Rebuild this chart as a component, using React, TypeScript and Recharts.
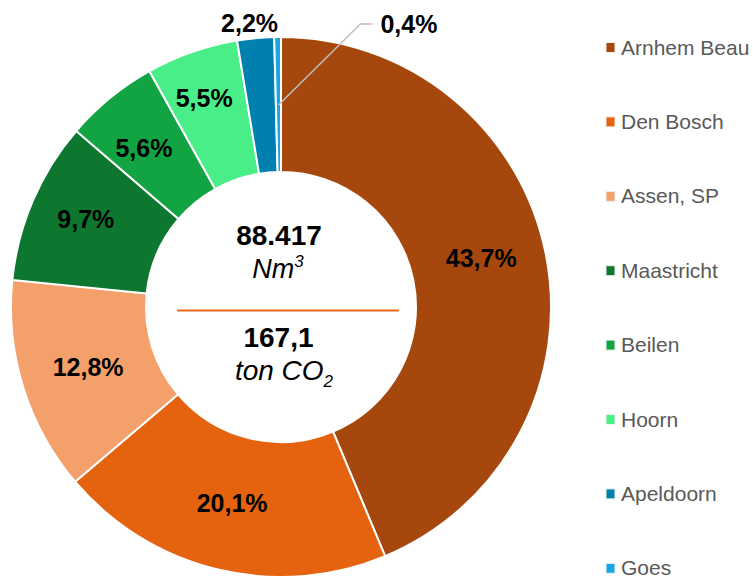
import { PieChart, Pie, Cell, Legend } from 'recharts'

const categories = [
  'Arnhem Beau',
  'Den Bosch',
  'Assen, SP',
  'Maastricht',
  'Beilen',
  'Hoorn',
  'Apeldoorn',
  'Goes',
]
const shares = [43.7, 20.1, 12.8, 9.7, 5.6, 5.5, 2.2, 0.4]
const totalGas = '88.417'
const totalCo2 = '167,1'

const colors = [
  '#A6470D',
  '#E5620F',
  '#F4A06B',
  '#0E772F',
  '#12A443',
  '#4AEE89',
  '#0080AE',
  '#17A8E4',
]

// label placement tweaks (radius from centre, angle shift in degrees)
const labelRadius = [206, 202, 202, 214, 210, 223, 286, 202]
const labelShift = [2.3, -0.5, 0, -1, 1.5, 0.9, 0.9, 0]

const RAD = Math.PI / 180
const FONT = '"Liberation Sans", Arial, sans-serif'

const data = categories.map((name, i) => ({ name, value: shares[i] }))

const fmt = (v: number) => v.toFixed(1).replace('.', ',') + '%'

// eslint-disable-next-line @typescript-eslint/no-explicit-any
const renderLabel = (props: any) => {
  const { cx, cy, midAngle, index, value } = props
  const a = (midAngle + labelShift[index]) * RAD
  const r = labelRadius[index]
  const x = cx + r * Math.cos(a)
  const y = cy - r * Math.sin(a)

  if (index === categories.length - 1) {
    // small slice: leader line to a label outside the ring
    const ex = x + 82
    const ey = y - 81
    return (
      <g>
        <polyline
          points={`${x},${y} ${ex},${ey} ${ex + 12},${ey}`}
          fill="none"
          stroke="#BFBFBF"
          strokeWidth={1.5}
        />
        <text x={ex + 20} y={ey + 9} fontSize={25} fontWeight="bold" fill="#000" fontFamily={FONT}>
          {fmt(value)}
        </text>
      </g>
    )
  }

  return (
    <text
      x={x}
      y={y + 9}
      textAnchor="middle"
      fontSize={25}
      fontWeight="bold"
      fill="#000"
      fontFamily={FONT}
    >
      {fmt(value)}
    </text>
  )
}

const renderLegend = () => (
  <svg width={153} height={582}>
    {categories.map((name, i) => {
      const base = 54.5 + i * 74.4
      return (
        <g key={name}>
          <rect x={6} y={base - 12} width={9} height={10} fill={colors[i]} stroke="#F2F2F2" strokeWidth={1} />
          <text x={21} y={base} fontSize={21} fill="#595959" fontFamily={FONT}>
            {name}
          </text>
        </g>
      )
    })}
  </svg>
)

export default function App() {
  return (
    <div style={{ position: 'absolute', left: 0, top: 0, width: 753, height: 582, background: '#fff' }}>
      <PieChart width={753} height={582} margin={{ top: 0, right: 0, bottom: 0, left: 0 }}>
        <Pie
          data={data}
          dataKey="value"
          nameKey="name"
          cx={281}
          cy={307}
          innerRadius={135}
          outerRadius={270}
          startAngle={90}
          endAngle={-270}
          stroke="#fff"
          strokeWidth={2}
          label={renderLabel}
          labelLine={false}
          isAnimationActive={false}
        >
          {data.map((d, i) => (
            <Cell key={d.name} fill={colors[i]} />
          ))}
        </Pie>
        <Legend
          layout="vertical"
          align="right"
          verticalAlign="top"
          content={renderLegend}
          wrapperStyle={{ left: 600, top: 0, width: 153, height: 582 }}
        />
        <g fontFamily={FONT} fill="#000">
          <text x={279} y={245} textAnchor="middle" fontSize={28} fontWeight="bold">
            {totalGas}
          </text>
          <text x={278} y={278} textAnchor="middle" fontSize={27} fontStyle="italic">
            Nm<tspan fontSize={17} dy={-11}>3</tspan>
          </text>
          <line x1={177} x2={399} y1={310.5} y2={310.5} stroke="#E4661A" strokeWidth={2} />
          <text x={278.5} y={347} textAnchor="middle" fontSize={28} fontWeight="bold">
            {totalCo2}
          </text>
          <text x={284} y={380} textAnchor="middle" fontSize={28} fontStyle="italic">
            ton CO<tspan fontSize={17} dy={7}>2</tspan>
          </text>
        </g>
      </PieChart>
    </div>
  )
}
